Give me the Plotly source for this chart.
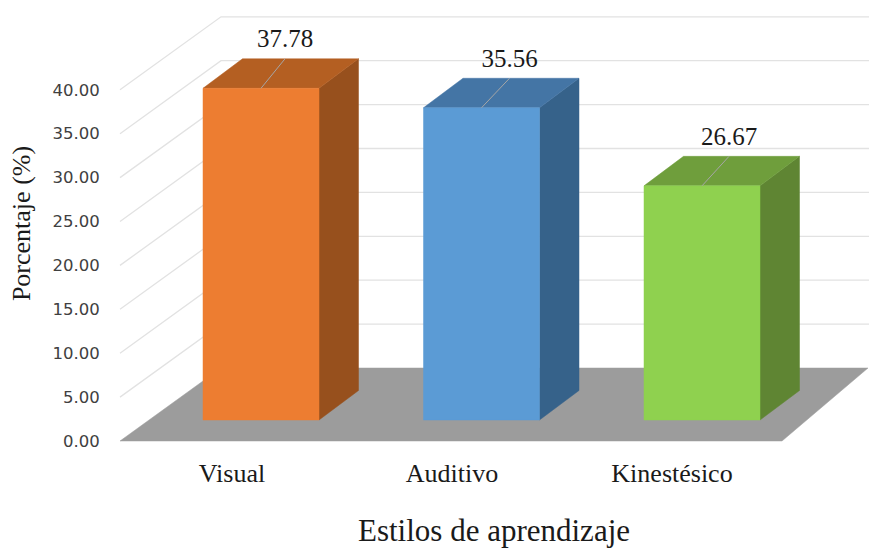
import plotly.graph_objects as go

categories = ["Visual", "Auditivo", "Kinestésico"]
values = [37.78, 35.56, 26.67]
tick_values = [0, 5, 10, 15, 20, 25, 30, 35, 40]
front_colors = ["#ED7D31", "#5B9BD5", "#8FD14F"]
top_colors = ["#B45F22", "#4475A5", "#6F9E3C"]
side_colors = ["#97501D", "#36628A", "#5F8533"]

PX_CAT = 220.0
PX_UNIT = 8.78
def cx(px): return px / PX_CAT
def vy(px): return px / PX_UNIT

WALL_DX = cx(99)
FLOOR_RIGHT_DX = cx(86)
WALL_DY = vy(73)
LEFT = -0.5
RIGHT = 2.5
BAR_W = cx(116)
BAR_DX = cx(39.5)
BAR_DY = vy(29.5)
BAR_X_OFF = cx(29)
BAR_Y_OFF = vy(21)
BAR_SPACING = 220.5 / 220.0
LEADER_DX = (24, 28, 27)

fig = go.Figure()

def poly(xs, ys, color, line=None):
    fig.add_trace(go.Scatter(x=xs + xs[:1], y=ys + ys[:1], mode="lines", fill="toself",
                             fillcolor=color, line=dict(color=line or color, width=0.5),
                             hoverinfo="skip", showlegend=False))

# grid lines on the side and back walls
for v in tick_values[1:]:
    fig.add_trace(go.Scatter(
        x=[LEFT - cx(2), LEFT + WALL_DX, 3.2],
        y=[v, v + WALL_DY, v + WALL_DY],
        mode="lines", line=dict(color="#E2E2E2", width=1.3),
        hoverinfo="skip", showlegend=False))

# floor
poly([LEFT - cx(2), RIGHT, RIGHT + FLOOR_RIGHT_DX, LEFT + WALL_DX],
     [0, 0, WALL_DY, WALL_DY], "#9C9C9C")

# bars
for i, (cat, val) in enumerate(zip(categories, values)):
    x0 = i * BAR_SPACING + BAR_X_OFF - BAR_W / 2
    x1 = x0 + BAR_W
    b = BAR_Y_OFF
    t = b + val
    poly([x1, x1 + BAR_DX, x1 + BAR_DX, x1], [b, b + BAR_DY, t + BAR_DY, t], side_colors[i])
    poly([x0, x1, x1 + BAR_DX, x0 + BAR_DX], [t, t, t + BAR_DY, t + BAR_DY], top_colors[i])
    poly([x0, x1, x1, x0], [b, b, t, t], front_colors[i])
    xc = (x0 + x1) / 2
    xe = xc + cx(LEADER_DX[i])
    fig.add_trace(go.Scatter(x=[xc, xe], y=[t, t + BAR_DY], mode="lines",
                             line=dict(color="#A6A6A6", width=1),
                             hoverinfo="skip", showlegend=False))
    fig.add_trace(go.Scatter(x=[xe], y=[t + BAR_DY + vy(18)], mode="text",
                             text=[f"{val:.2f}"], textposition="middle center",
                             textfont=dict(family="Liberation Serif", size=25, color="#1A1A1A"),
                             hoverinfo="skip", showlegend=False))

TOP_PX, BOTTOM_PX, ZERO_PX = 0, 447, 441
LEFT_PX, RIGHT_PX, ZERO_X = 108, 869, 232
TITLE_Y_PX = 530
fig.update_layout(
    width=869, height=550,
    margin=dict(l=LEFT_PX, r=869 - RIGHT_PX, t=TOP_PX, b=550 - BOTTOM_PX, pad=0),
    paper_bgcolor="white", plot_bgcolor="white", showlegend=False,
    xaxis=dict(range=[(LEFT_PX - ZERO_X) / PX_CAT, (RIGHT_PX - ZERO_X) / PX_CAT],
               tickvals=[0, 1, 2], ticktext=categories, showgrid=False, zeroline=False,
               showline=False, ticks="outside", ticklen=3, tickcolor="rgba(0,0,0,0)",
               tickfont=dict(family="Liberation Serif", size=26, color="#1A1A1A")),
    yaxis=dict(range=[(ZERO_PX - BOTTOM_PX) / PX_UNIT, (ZERO_PX - TOP_PX) / PX_UNIT],
               tickvals=tick_values, tickformat=".2f", showgrid=False, zeroline=False,
               showline=False, ticks="outside", ticklen=4, tickcolor="rgba(0,0,0,0)",
               tickfont=dict(family="DejaVu Sans", size=16.5, color="#404040"),
               title=dict(text="Porcentaje (%)", standoff=14,
                          font=dict(family="Liberation Serif", size=26, color="#1A1A1A"))),
    annotations=[dict(text="Estilos de aprendizaje", x=(494 - ZERO_X) / PX_CAT, xref="x",
                      y=(BOTTOM_PX - TITLE_Y_PX) / (BOTTOM_PX - TOP_PX), yref="paper",
                      yanchor="middle", showarrow=False,
                      font=dict(family="Liberation Serif", size=31, color="#1A1A1A"))],
)
fig.write_html("out.html", config=dict(displayModeBar=False),
               post_script="document.body.style.margin='0';document.body.style.overflow='hidden';")
